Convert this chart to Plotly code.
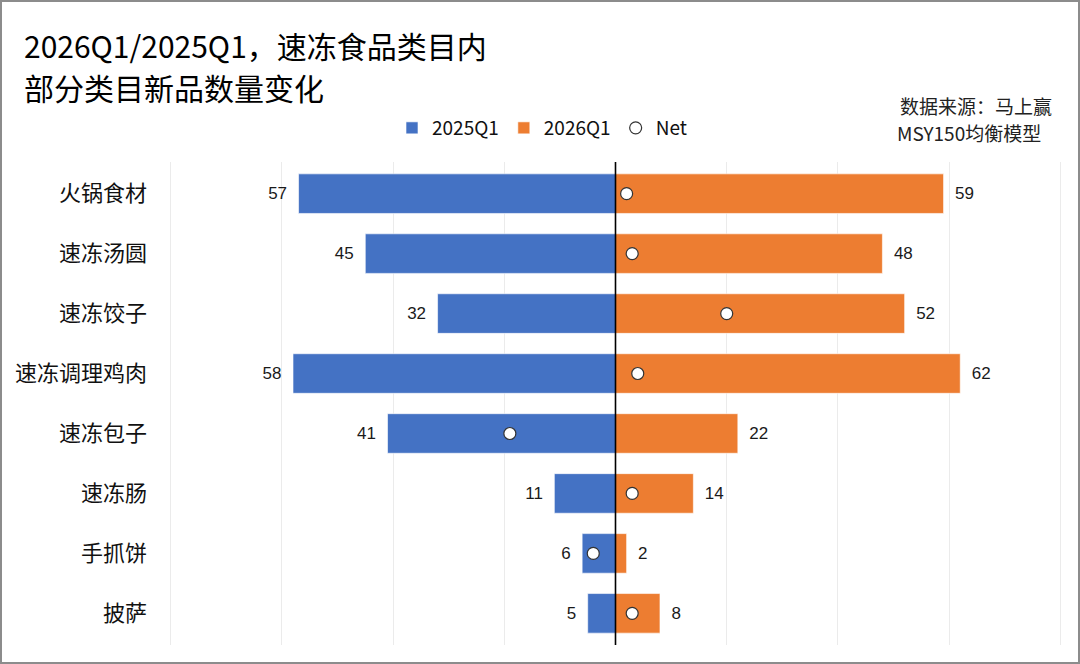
import plotly.graph_objects as go

categories = ["火锅食材", "速冻汤圆", "速冻饺子", "速冻调理鸡肉", "速冻包子", "速冻肠", "手抓饼", "披萨"]
q1_2025 = [57, 45, 32, 58, 41, 11, 6, 5]
q1_2026 = [59, 48, 52, 62, 22, 14, 2, 8]
net = [b - a for a, b in zip(q1_2025, q1_2026)]

W, H = 1080, 664
L, R, T, B = 169, 18, 162, 19
pw, ph = W - L - R, H - T - B

cjk = "Noto Sans CJK SC"
num_font = "Liberation Sans, Arial, sans-serif"
SP = "\u2002"

fig = go.Figure()
fig.add_trace(go.Bar(
    name="2025Q1", y=categories, x=[-v for v in q1_2025], orientation="h",
    marker=dict(color="#4472C4", line=dict(color="rgba(255,255,255,0.6)", width=1)),
    width=0.66, text=[f"{v}{SP}" for v in q1_2025], textposition="outside",
    textfont=dict(family=num_font, size=17, color="#1a1a1a"), cliponaxis=False,
))
fig.add_trace(go.Bar(
    name="2026Q1", y=categories, x=q1_2026, orientation="h",
    marker=dict(color="#ED7D31", line=dict(color="rgba(255,255,255,0.6)", width=1)),
    width=0.66, text=[f"{SP}{v}" for v in q1_2026], textposition="outside",
    textfont=dict(family=num_font, size=17, color="#1a1a1a"), cliponaxis=False,
))
fig.add_trace(go.Scatter(
    name="Net", y=categories, x=net, mode="markers",
    marker=dict(symbol="circle", size=12, color="white", line=dict(color="#333333", width=1.2)),
))


def px_x(x):
    return (x - L) / pw


def px_y(y):
    return 1 - (y - T) / ph


fig.update_layout(
    width=W, height=H,
    margin=dict(l=L, r=R, t=T, b=B),
    paper_bgcolor="white", plot_bgcolor="white",
    barmode="relative",
    showlegend=True,
    legend=dict(orientation="h", x=px_x(542), xanchor="center", y=px_y(128), yanchor="middle",
                font=dict(family=cjk, size=19, color="#111"), itemwidth=30,
                tracegroupgap=0, bgcolor="rgba(0,0,0,0)"),
    font=dict(family=cjk),
)
fig.update_xaxes(range=[-80.3, 80.3], dtick=20, tick0=0, showticklabels=False,
                 showgrid=True, gridcolor="#ebebeb", gridwidth=1, zeroline=False,
                 showline=False, fixedrange=True)
fig.update_yaxes(categoryorder="array", categoryarray=categories, autorange="reversed",
                 showgrid=False, zeroline=False, showline=False, ticks="",
                 tickfont=dict(family=cjk, size=22, color="#111"), ticklabelstandoff=21,
                 fixedrange=True)

# zero line above bars
fig.add_shape(type="line", xref="x", yref="paper", x0=0, x1=0, y0=0, y1=1,
              line=dict(color="black", width=1.6), layer="above")
# image border
fig.add_shape(type="rect", xref="paper", yref="paper",
              x0=(-L + 1) / pw, x1=1 + (R - 1) / pw, y0=(-B + 1) / ph, y1=1 + (T - 1) / ph,
              line=dict(color="#8c8c8c", width=2), fillcolor="rgba(0,0,0,0)", layer="above")

fig.add_annotation(text="2026Q1/2025Q1，速冻食品类目内", x=px_x(22), y=px_y(45),
                   xref="paper", yref="paper", xanchor="left", yanchor="middle", showarrow=False,
                   font=dict(family=cjk, size=30, color="#000"))
fig.add_annotation(text="部分类目新品数量变化", x=px_x(22), y=px_y(87),
                   xref="paper", yref="paper", xanchor="left", yanchor="middle", showarrow=False,
                   font=dict(family=cjk, size=30, color="#000"))
fig.add_annotation(text="数据来源：马上赢", x=px_x(1054), y=px_y(105),
                   xref="paper", yref="paper", xanchor="right", yanchor="middle", showarrow=False,
                   font=dict(family=cjk, size=19, color="#222"))
fig.add_annotation(text="MSY150均衡模型", x=px_x(1043), y=px_y(132),
                   xref="paper", yref="paper", xanchor="right", yanchor="middle", showarrow=False,
                   font=dict(family=cjk, size=19, color="#222"))

fig.write_html("out.html", config={"displayModeBar": False},
               post_script="document.body.style.margin='0';document.body.style.overflow='hidden';")
